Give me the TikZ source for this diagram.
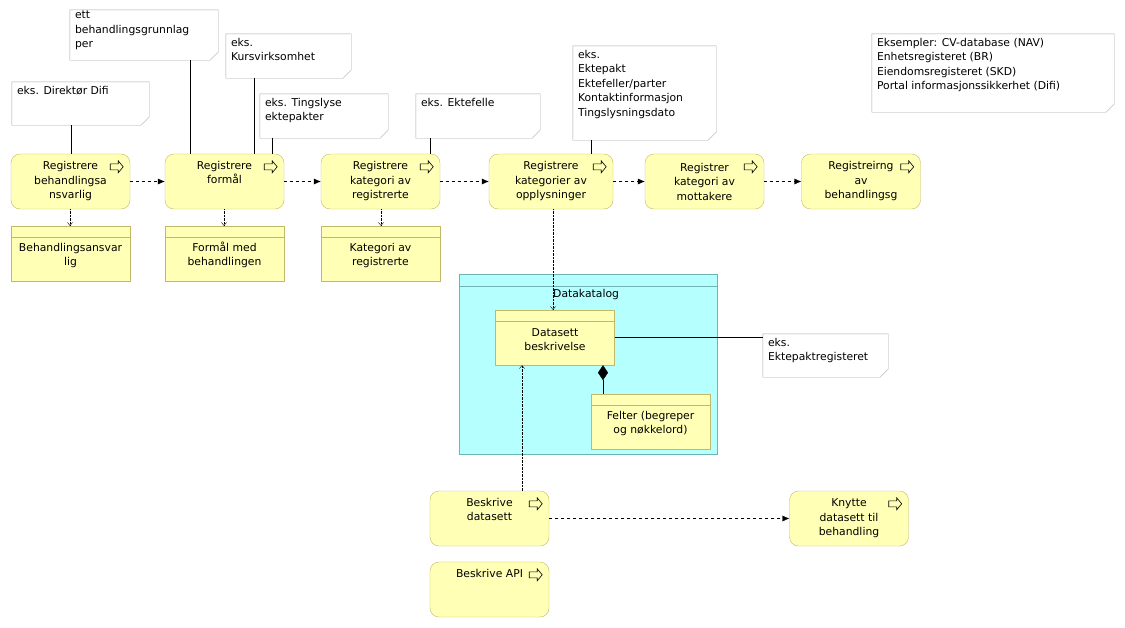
\documentclass[tikz,border=0pt]{standalone}
\usepackage{fontspec}
\setmainfont{DejaVu Sans}
\usetikzlibrary{arrows.meta}
\definecolor{procfill}{HTML}{FFFFB5}
\definecolor{procdraw}{HTML}{C2B86A}
\definecolor{grpfill}{HTML}{B5FFFF}
\definecolor{grpdraw}{HTML}{6FB3B3}
\definecolor{notedraw}{HTML}{A8A8A8}
\begin{document}
\begin{tikzpicture}[x=1pt,y=-1pt,font=\fontsize{10.8}{14.5}\selectfont]
\tikzstyle{proc} = [draw=procdraw,fill=procfill,rounded corners=9,minimum width=119,
                    minimum height=55,align=center,inner sep=0]
\tikzstyle{obj} = [draw=procdraw,fill=procfill,minimum width=119,minimum height=55,
                   align=center,inner sep=0]
\tikzstyle{note} = [draw=notedraw,inner sep=0]
\tikzstyle{notetext} = [anchor=north west,inner sep=0,align=left]
\tikzstyle{trig} = [dashed,-{Latex[length=7,width=6]}]
\tikzstyle{acc} = [densely dotted,-{Straight Barb[length=3,width=5]}]
\useasboundingbox (0,0) rectangle (1125,627);
% group
\node [draw=grpdraw,fill=grpfill,minimum width=258,minimum height=180,inner sep=0] (grp) at (588,364) {};
\draw [grpdraw] (459,286) -- (717,286);
\node [anchor=west,inner sep=0] (grplbl) at (553,295) {Datakatalog};
% processes
\node [proc] (p1) at (70.5,181.5) {Registrere\\behandlingsa\\nsvarlig};
\node [proc] (p2) at (224.5,181.5) {Registrere\\formål\\[4pt]};
\node [proc] (p3) at (380.5,181.5) {Registrere\\kategori av\\registrerte};
\node [proc,minimum width=124] (p4) at (551,181.5) {Registrere\\kategorier av\\opplysninger};
\node [proc] (p5) at (704.5,181.5) {Registrer\\kategori av\\mottakere};
\node [proc] (p6) at (861,181.5) {Registreirng\\av\\behandlingsg};
\node [proc] (p7) at (489.5,518.5) {Beskrive\\datasett\\[4pt]};
\node [proc] (p8) at (849,518.5) {Knytte\\datasett til\\behandling};
\node [proc] (p9) at (489.5,589.5) {Beskrive API\\[18pt]};
\foreach \n in {p1,p2,p3,p4,p5,p6,p7,p8,p9}
  \draw [black,fill=procfill,line width=0.6] ([shift={(-20,10)}]\n.north east) -- ++(8,0) -- ++(0,-3)
        -- ++(5,6) -- ++(-5,6) -- ++(0,-3) -- ++(-8,0) -- cycle;
% objects
\node [obj] (o1) at (70.5,253.5) {\\[-2pt]Behandlingsansvar\\lig};
\node [obj] (o2) at (224.5,253.5) {\\[-2pt]Formål med\\behandlingen};
\node [obj] (o3) at (380.5,253.5) {\\[-2pt]Kategori av\\registrerte};
\node [obj] (d1) at (555,337.5) {\\[-2pt]Datasett\\beskrivelse};
\node [obj] (d2) at (650.5,421.5) {\\[-2pt]Felter (begreper\\og nøkkelord)};
\foreach \n in {o1,o2,o3,d1,d2}
  \draw [procdraw] ([yshift=-11]\n.north west) -- ([yshift=-11]\n.north east);
% notes
\node [note,draw=none,minimum width=137,minimum height=43] (n1) at (80.5,103.5) {};
\node [note,draw=none,minimum width=148,minimum height=50] (n2) at (144,35) {};
\node [note,draw=none,minimum width=125,minimum height=44] (n3) at (288.5,56) {};
\node [note,draw=none,minimum width=128,minimum height=44] (n4) at (324,116) {};
\node [note,draw=none,minimum width=124,minimum height=44] (n5) at (478,116) {};
\node [note,draw=none,minimum width=143,minimum height=94] (n6) at (644.5,93) {};
\node [note,draw=none,minimum width=242,minimum height=78] (n7) at (993,73) {};
\node [note,draw=none,minimum width=125,minimum height=43] (n8) at (825.5,355.5) {};
\foreach \n in {n1,n2,n3,n4,n5,n6,n7,n8}
  \draw [notedraw,fill=white] (\n.north west) -- (\n.north east) -- ([yshift=8]\n.south east)
        -- ([xshift=-8]\n.south east) -- (\n.south west) -- cycle;
\node [notetext] at ([shift={(5,4)}]n1.north west) {eks. Direktør Difi};
\begin{scope}
\clip (n2.north west) rectangle (n2.south east);
\node [notetext] at ([shift={(5,1)}]n2.north west) {ett\\behandlingsgrunnlag\\per};
\end{scope}
\node [notetext] at ([shift={(5,4)}]n3.north west) {eks.\\Kursvirksomhet};
\node [notetext] at ([shift={(5,4)}]n4.north west) {eks. Tingslyse\\ektepakter};
\node [notetext] at ([shift={(5,4)}]n5.north west) {eks. Ektefelle};
\node [notetext] at ([shift={(5,4)}]n6.north west) {eks.\\Ektepakt\\Ektefeller/parter\\Kontaktinformasjon\\Tingslysningsdato};
\node [notetext] at ([shift={(5,4)}]n7.north west) {Eksempler: CV-database (NAV)\\Enhetsregisteret (BR)\\Eiendomsregisteret (SKD)\\Portal informasjonssikkerhet (Difi)};
\node [notetext] at ([shift={(5,4)}]n8.north west) {eks.\\Ektepaktregisteret};
% note links
\draw (n1.south -| 71,0) -- (p1.north -| 71,0);
\draw (n2.south -| 190,0) -- (p2.north -| 190,0);
\draw (n3.south -| 254,0) -- (p2.north -| 254,0);
\draw (n4.south -| 272,0) -- (p2.north -| 272,0);
\draw (n5.south -| 430,0) -- (p3.north -| 430,0);
\draw (n6.south -| 591,0) -- (p4.north -| 591,0);
\draw (d1.east) -- (n8.west |- d1.east);
% triggering
\draw [trig] (p1) -- (p2);
\draw [trig] (p2) -- (p3);
\draw [trig] (p3) -- (p4);
\draw [trig] (p4) -- (p5);
\draw [trig] (p5) -- (p6);
\draw [trig] (p7) -- (p8);
% access
\draw [acc] (p1.south -| 70,0) -- (o1.north -| 70,0);
\draw [acc] (p2.south -| 224,0) -- (o2.north -| 224,0);
\draw [acc] (p3.south -| 381,0) -- (o3.north -| 381,0);
\draw [acc] (p4.south -| 553,0) -- (d1.north -| 553,0);
\draw [acc] (p7.north -| 522,0) -- (d1.south -| 522,0);
% composition
\draw [{Diamond[length=15,width=10]}-] (d1.south -| 603,0) -- (d2.north -| 603,0);
\end{tikzpicture}
\end{document}
